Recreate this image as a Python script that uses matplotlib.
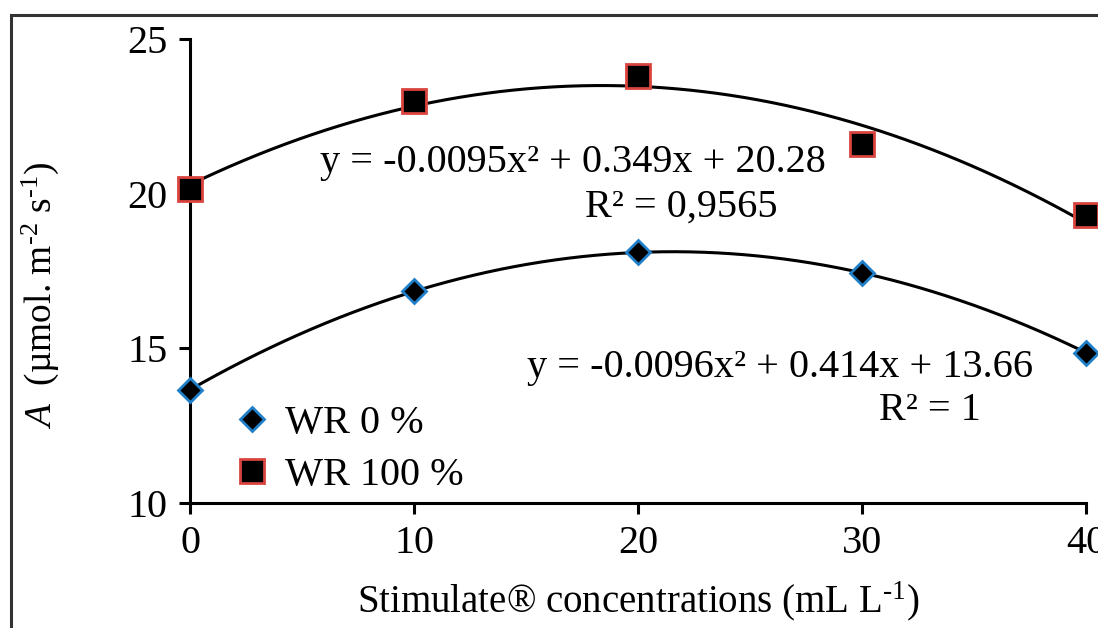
import matplotlib
matplotlib.use("Agg")
import matplotlib.pyplot as plt
import numpy as np
from matplotlib.lines import Line2D
from matplotlib.patches import Rectangle

plt.rcParams["font.family"] = ["Liberation Serif", "DejaVu Serif"]
plt.rcParams["mathtext.fontset"] = "custom"
plt.rcParams["mathtext.rm"] = "Liberation Serif"
plt.rcParams["mathtext.it"] = "Liberation Serif:italic"

concentrations = [0, 10, 20, 30, 40]
wr0 = [13.66, 16.84, 18.10, 17.44, 14.86]
wr100 = [20.15, 23.00, 23.80, 21.60, 19.30]
x_ticks = [0, 10, 20, 30, 40]
y_ticks = [10, 15, 20, 25]
eq_wr0 = "y = -0.0096x² + 0.414x + 13.66"
r2_wr0 = "R² = 1"
eq_wr100 = "y = -0.0095x² + 0.349x + 20.28"
r2_wr100 = "R² = 0,9565"

fig = plt.figure(figsize=(10.98, 6.28), dpi=100)
ax = fig.add_axes([190 / 1098, 1 - 503 / 628, (1086 - 190) / 1098, (503 - 39) / 628])

xs = np.linspace(0, 40, 200)
for vals in (wr0, wr100):
    coef = np.polyfit(concentrations, vals, 2)
    ax.plot(xs, np.polyval(coef, xs), color="black", lw=2.2, zorder=2, clip_on=False)

ax.plot(concentrations, wr0, ls="none", marker="D", ms=12, mfc="black",
        mec="#1f7fc8", mew=2, zorder=3, clip_on=False)
ax.plot(concentrations, wr100, ls="none", marker="s", ms=17, mfc="black",
        mec="#d9443f", mew=2, zorder=3, clip_on=False)

ax.set_xlim(0, 40)
ax.set_ylim(10, 25)
ax.set_xticks(x_ticks)
ax.set_yticks(y_ticks)
for s in ("top", "right"):
    ax.spines[s].set_visible(False)
for s in ("left", "bottom"):
    ax.spines[s].set_linewidth(2.2)
ax.tick_params(direction="out", length=8, width=2.2, labelsize=29, pad=8)

ax.set_xlabel(r"Stimulate® concentrations (mL L$^{\text{-}1}$)", fontsize=28, labelpad=12)
fig.text(40 / 1098, 1 - 295 / 628, r"$\it{A}$  (µmol. m$^{\text{-}2}$ s$^{\text{-}1}$)",
         fontsize=27, rotation=90, ha="center", va="center")

fig.text(573 / 1098, 1 - 162 / 628, eq_wr100, fontsize=29, ha="center", va="center")
fig.text(681 / 1098, 1 - 207 / 628, r2_wr100, fontsize=29, ha="center", va="center")
fig.text(780 / 1098, 1 - 367 / 628, eq_wr0, fontsize=29, ha="center", va="center")
fig.text(930 / 1098, 1 - 410 / 628, r2_wr0, fontsize=29, ha="center", va="center")

handles = [
    Line2D([], [], ls="none", marker="D", ms=12, mfc="black", mec="#1f7fc8", mew=2),
    Line2D([], [], ls="none", marker="s", ms=17, mfc="black", mec="#d9443f", mew=2),
]
ax.legend(handles, ["WR 0 %", "WR 100 %"], loc="lower left",
          bbox_to_anchor=(200 / 1098, 1 - 526 / 628), bbox_transform=fig.transFigure,
          frameon=False, fontsize=29, handletextpad=0.3, labelspacing=0.35,
          handlelength=1.0, borderpad=0.3)

fig.add_artist(Rectangle((11 / 1098, -0.1), 1.2, 1.1 - 15 / 628, transform=fig.transFigure,
                         fill=False, edgecolor="#333333", lw=2.2))

fig.savefig("out.png", dpi=100)
